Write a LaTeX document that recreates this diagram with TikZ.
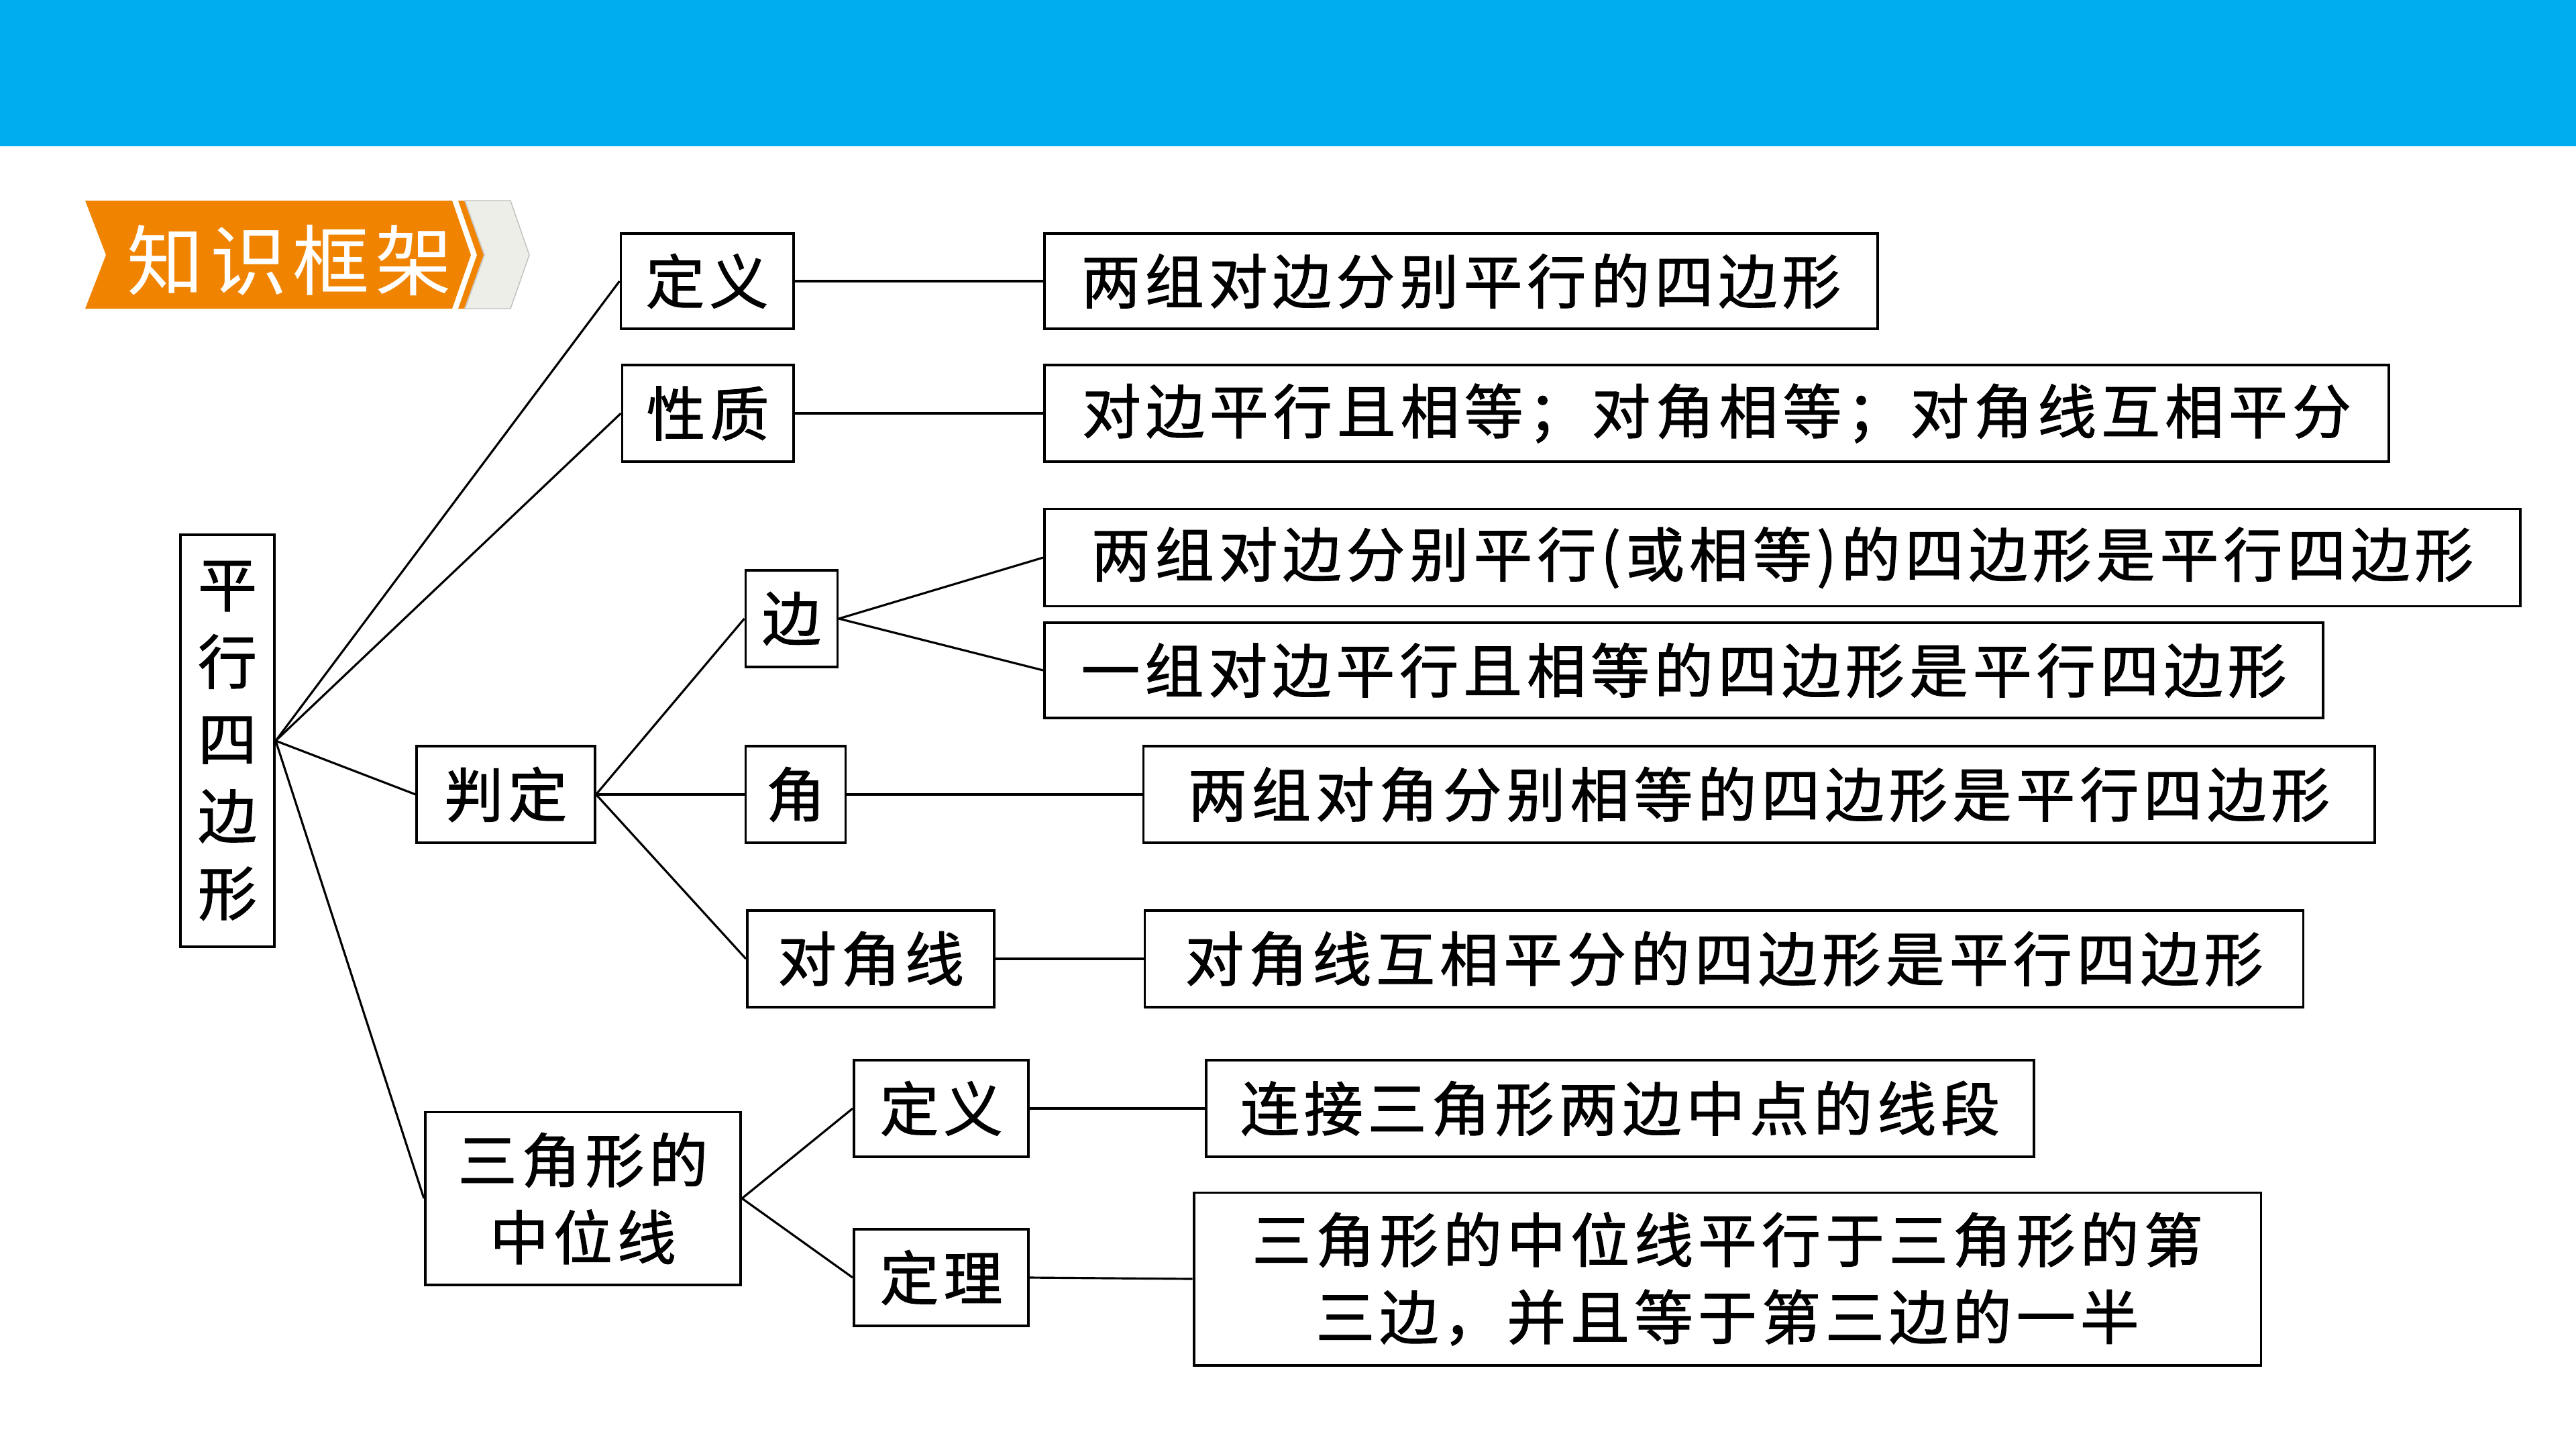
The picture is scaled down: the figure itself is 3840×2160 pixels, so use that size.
\documentclass[tikz,border=0pt]{standalone}
\usepackage{fontspec}
\usepackage{tikz}
\usetikzlibrary{positioning}
\newfontfamily\cjk[LetterSpace=8, FakeBold=1.2]{Noto Sans CJK SC}
\newfontfamily\cjktitle[LetterSpace=8]{Noto Sans CJK SC}
\newcommand\kfont{\cjk\fontsize{25pt}{32.7pt}\selectfont}
\definecolor{bandblue}{RGB}{0,174,239}
\definecolor{tagorange}{RGB}{240,131,0}
\definecolor{taggrey}{RGB}{238,238,232}

\begin{document}
\begin{tikzpicture}[
        x=0.01cm, y=-0.01cm,
        kbox/.style={draw, line width=1.1pt, inner sep=0pt, align=center, font=\kfont},
        link/.style={line width=0.9pt},
        ]
        \useasboundingbox (0,0) rectangle (3840,2160);
        \fill[bandblue] (0,0) rectangle (3840,218);

        % title tag
        \fill[tagorange] (127,299) -- (674,299) -- (702,380) -- (674,460) -- (127,460) -- (158,380) -- cycle;
        \fill[tagorange] (683,299) -- (692,299) -- (721,380) -- (692,460) -- (683,460) -- (711,380) -- cycle;
        \filldraw[fill=taggrey, draw=black!25, line width=0.4pt] (693,299) -- (761,299) -- (789,380) -- (761,460) -- (693,460) -- (722,380) -- cycle;
        \node[text=white, font=\cjktitle\fontsize{32.5pt}{32.5pt}\selectfont] (tag) at (432,388) {知识框架};

        % levels
        \node[kbox, minimum width=1.40cm, minimum height=6.13cm] (pxsbx) at (339,1104) {平\\行\\四\\边\\形};
        \node[kbox, minimum width=2.57cm, minimum height=1.42cm] (dingyi) at (1054,419) {定义};
        \node[kbox, minimum width=2.55cm, minimum height=1.44cm] (xingzhi) at (1055,616) {性质};
        \node[kbox, minimum width=2.65cm, minimum height=1.44cm] (panding) at (754,1184) {判定};
        \node[kbox, minimum width=4.70cm, minimum height=2.57cm] (zwx) at (869,1786) {三角形的\\中位线};

        \node[kbox, minimum width=1.37cm, minimum height=1.44cm] (bian) at (1180,922) {边};
        \node[kbox, minimum width=1.49cm, minimum height=1.44cm] (jiao) at (1186,1184) {角};
        \node[kbox, minimum width=3.68cm, minimum height=1.44cm] (djx) at (1298,1429) {对角线};
        \node[kbox, minimum width=2.60cm, minimum height=1.44cm] (zdingyi) at (1403,1652) {定义};
        \node[kbox, minimum width=2.60cm, minimum height=1.44cm] (zdingli) at (1403,1904) {定理};

        \node[kbox, minimum width=12.41cm, minimum height=1.42cm] (def) at (2178,419) {两组对边分别平行的四边形};
        \node[kbox, minimum width=20.03cm, minimum height=1.44cm] (prop) at (2559,616) {对边平行且相等；对角相等；对角线互相平分};
        \node[kbox, minimum width=21.99cm, minimum height=1.45cm] (bianA) at (2657,831) {两组对边分别平行(或相等)的四边形是平行四边形};
        \node[kbox, minimum width=19.05cm, minimum height=1.42cm] (bianB) at (2510,999) {一组对边平行且相等的四边形是平行四边形};
        \node[kbox, minimum width=18.34cm, minimum height=1.44cm] (jiaoA) at (2622,1184) {两组对角分别相等的四边形是平行四边形};
        \node[kbox, minimum width=17.26cm, minimum height=1.44cm] (djxA) at (2570,1429) {对角线互相平分的四边形是平行四边形};
        \node[kbox, minimum width=12.34cm, minimum height=1.44cm] (zdef) at (2415,1652) {连接三角形两边中点的线段};
        \node[kbox, minimum width=15.90cm, minimum height=2.57cm] (zthm) at (2575,1906) {三角形的中位线平行于三角形的第\\三边，并且等于第三边的一半};

        % connectors
        \foreach \t in {dingyi, xingzhi, panding, zwx}
          \draw[link] (pxsbx.east) -- (\t.west);
        \foreach \t in {bian, jiao, djx}
          \draw[link] (panding.east) -- (\t.west);
        \foreach \t in {zdingyi, zdingli}
          \draw[link] (zwx.east) -- (\t.west);
        \draw[link] (bian.east) -- (bianA.west);
        \draw[link] (bian.east) -- (bianB.west);
        \draw[link] (dingyi) -- (def);
        \draw[link] (xingzhi) -- (prop);
        \draw[link] (jiao) -- (jiaoA);
        \draw[link] (djx) -- (djxA);
        \draw[link] (zdingyi) -- (zdef);
        \draw[link] (zdingli.east) -- (zthm.west);
\end{tikzpicture}
\end{document}
